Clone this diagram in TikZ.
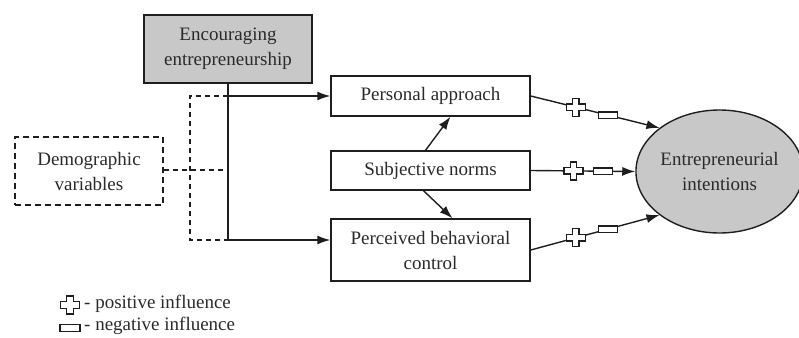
\documentclass[tikz,border=0pt]{standalone}
\usepackage{fontspec}
\setmainfont{Liberation Serif}
\usetikzlibrary{arrows.meta,shapes.geometric,calc}
\definecolor{boxgray}{HTML}{C8C8C8}
\definecolor{ink}{HTML}{1E1E1E}
\definecolor{txt}{HTML}{2A2A2A}
\tikzset{
  box/.style={draw=ink,line width=1.4pt,minimum width=199pt,inner sep=0pt,align=center,text=txt,font=\fontsize{19}{25}\selectfont},
  dbox/.style={box,dash pattern=on 6pt off 4pt},
  conn/.style={ink,line width=1.4pt},
  arr/.style={conn,-{Latex[length=13pt,width=9pt]}},
  dconn/.style={ink,line width=1.2pt,dash pattern=on 5pt off 4pt},
  plussym/.pic={\draw[ink,fill=white,line width=1.3pt] (-3.2,-9) -- (3.2,-9) -- (3.2,-3.2) -- (9.5,-3.2) -- (9.5,3.2) -- (3.2,3.2) -- (3.2,9) -- (-3.2,9) -- (-3.2,3.2) -- (-9.5,3.2) -- (-9.5,-3.2) -- (-3.2,-3.2) -- cycle;},
  minussym/.pic={\draw[ink,fill=white,line width=1.3pt] (-9.5,-3.2) rectangle (9.5,3.2);}
}
\begin{document}
\begin{tikzpicture}[x=1pt,y=-1pt]
\useasboundingbox (0,0) rectangle (799,337);
\node[box,fill=boxgray,minimum width=168pt,minimum height=68pt] (enc) at (228,49) {Encouraging\\entrepreneurship};
\node[dbox,minimum width=148pt,minimum height=68pt] (dv) at (89,171) {Demographic\\variables};
\node[box,minimum height=40pt] (pa) at (430.5,96) {Personal approach};
\node[box,minimum height=39pt] (sn) at (430.5,170.5) {Subjective norms};
\node[box,minimum height=62pt] (pbc) at (430.5,250) {Perceived behavioral\\control};
\node[draw=ink,line width=1.4pt,fill=boxgray,ellipse,minimum width=157pt,minimum height=123pt,inner sep=0pt,align=center,text=txt,font=\fontsize{19}{25}\selectfont] (ei) at (719.5,171.5) {Entrepreneurial\\intentions};
% junctions
\coordinate (jt) at (228,96);
\coordinate (jb) at (228,240);
\coordinate (jm) at (228,170);
\coordinate (dt) at (190,96);
\coordinate (db) at (190,240);
% dashed connectors
\draw[dconn] (jt) -- (dt) -- (db) -- (jb);
\draw[dconn] (dv.east |- jm) -- (jm);
% solid connectors
\draw[conn] (enc.south) -- (jb);
\draw[arr] (jt) -- (pa.west);
\draw[arr] (jb) -- (jb -| pbc.west);
\draw[arr] ([xshift=-5pt]sn.north) -- ([xshift=20pt]pa.south);
\draw[arr] ([xshift=-7pt]sn.south) -- ([xshift=22pt]pbc.north);
% influence arrows
\draw[arr] (pa.east) -- (ei.144) node[coordinate,pos=0.35] (p1) {} node[coordinate,pos=0.6] (m1) {};
\draw[arr] (sn.east) -- (ei.west) node[coordinate,pos=0.41] (p2) {} node[coordinate,pos=0.69] (m2) {};
\draw[arr] (pbc.east) -- (ei.216) node[coordinate,pos=0.35] (p3) {} node[coordinate,pos=0.6] (m3) {};
\pic at (p1) {plussym}; \pic at (m1) {minussym};
\pic at (p2) {plussym}; \pic at (m2) {minussym};
\pic at (p3) {plussym}; \pic at (m3) {minussym};
% legend
\coordinate (lp) at (70,305);
\coordinate (lm) at (70,328);
\pic at (lp) {plussym};
\draw[ink,fill=white,line width=1.3pt] ($(lm)+(-10,-3.5)$) rectangle ($(lm)+(10,3.5)$);
\node[anchor=west,inner sep=0pt,text=txt,font=\fontsize{19}{25}\selectfont] (lt1) at (84,304) {- positive influence};
\node[anchor=west,inner sep=0pt,text=txt,font=\fontsize{19}{25}\selectfont] (lt2) at (84,326) {- negative influence};
\end{tikzpicture}
\end{document}
